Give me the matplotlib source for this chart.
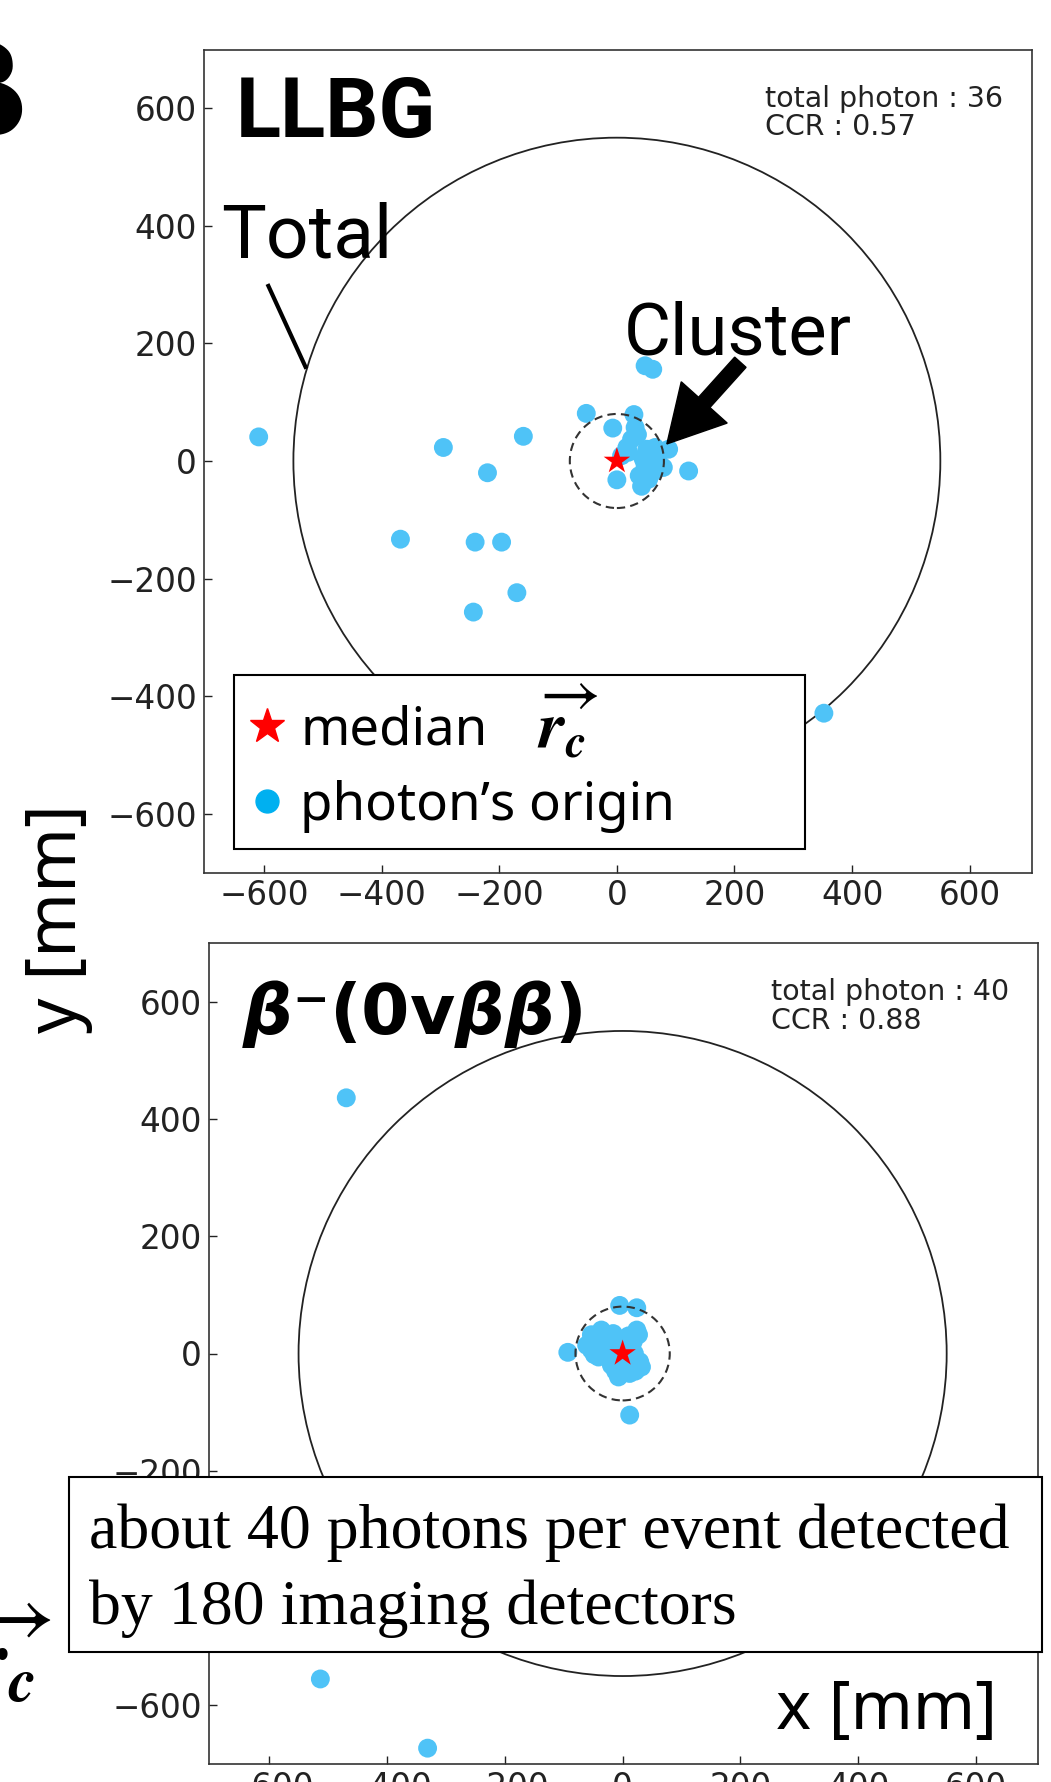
import matplotlib.pyplot as plt
from matplotlib.patches import Circle, Rectangle
from matplotlib.lines import Line2D
import numpy as np

plt.rcParams['mathtext.fontset'] = 'stix'

# photon origins, LLBG event
llbg_x = [-609, -295, -220, -159, -368, -241, -196, -170, -244, 352, 122, -52, 48, 61,
          -7, 29, 31, 25, 17, 8, 0, 51, 65, 88, 45, 48, 79, 54, 42, 62, 35, 20, 55, 70, 60, 38]
llbg_y = [41, 23, -20, 42, -133, -138, -138, -224, -257, -429, -17, 81, 162, 156,
          56, 79, 57, 37, 23, 9, -32, 20, 23, 20, 3, -9, -11, -31, -43, 9, 45, 15, -2, 5, -20, -25]
llbg_median = (0, 0)

# photon origins, beta- (0vbb) event
bb_x = [-469, -513, -331, 12, -93, -5, 24, -53, -36, -16, -53, -41, -61, 24, 27, 18,
        -19, -30, -19, -5, 12, 29, 32, 7, -10, -44, 1, -7, -45, -25, -5, 10, -28, -48,
        15, 20, -2, -12, 22, 0]
bb_y = [436, -555, -673, -105, 2, 82, 78, 32, 40, 34, 6, -6, 14, 40, 32, 20,
        3, 20, -20, -37, -34, -14, -23, -26, -6, 20, 11, -40, 28, 30, 25, 30, 8, -2,
        -10, 0, -15, -30, -30, 5]
bb_median = (0, 0)

titles = ['LLBG', r'$\mathbfit{\beta}$' + '\u207b(0v' + r'$\mathbfit{\beta\beta}$' + ')']
infos = ['total photon : 36\nCCR : 0.57', 'total photon : 40\nCCR : 0.88']
ticks = [-600, -400, -200, 0, 200, 400, 600]
R_TOTAL = 550
R_CLUSTER = 80
DOT = '#4fc3f7'
RC = r'$\overrightarrow{\mathbfit{r}_{\mathbfit{c}}}$'

W, H = 1051, 1782
fig = plt.figure(figsize=(W / 100, H / 100), dpi=100)
ax1 = fig.add_axes([204 / W, 1 - 872.5 / H, 827.5 / W, 823 / H])
ax2 = fig.add_axes([209 / W, 1 - 1764 / H, 829 / W, 821 / H])


def panel(ax, xs, ys, med, info):
    ax.add_patch(Circle((0, 0), R_TOTAL, fill=False, ec='#222222', lw=1.3, zorder=1))
    ax.scatter(xs, ys, s=185, color=DOT, edgecolors='none', zorder=2)
    ax.add_patch(Circle(med, R_CLUSTER, fill=False, ec='#333333', lw=1.5,
                        ls=(0, (4, 2.5)), zorder=3))
    ax.scatter([med[0]], [med[1]], marker='*', s=400, color='red', edgecolors='none', zorder=3)
    ax.set_xlim(-702, 705)
    ax.set_ylim(-700, 700)
    ax.set_xticks(ticks)
    ax.set_yticks(ticks)
    ax.tick_params(direction='in', length=6, width=1, labelsize=23.5, pad=5, colors='#222222')
    for s in ax.spines.values():
        s.set_linewidth(1.2)
        s.set_color('#333333')
    ax.text(252, 640, info, fontsize=20.5, ha='left', va='top', linespacing=1.02, color='#222222')


panel(ax1, llbg_x, llbg_y, llbg_median, infos[0])
panel(ax2, bb_x, bb_y, bb_median, infos[1])

# top panel labels
ax1.text(-648, 552, titles[0], family='Roboto', fontweight='bold', fontsize=60, va='baseline')
ax1.text(-673, 347, 'Total', family='Roboto', fontsize=54, va='baseline')
ax1.plot([-594, -528], [301, 157], color='black', lw=3, solid_capstyle='butt')
ax1.text(11, 182, 'Cluster', family='Roboto', fontsize=52, va='baseline')
ax1.arrow(210, 168, 85 - 210, 29 - 168, width=26, head_width=105, head_length=95,
          length_includes_head=True, color='black', zorder=6)

# legend
ax1.add_patch(Rectangle((-651, -660), 971, 296, facecolor='white', edgecolor='black',
                        lw=1.5, zorder=4))
handles = [Line2D([], [], marker='*', color='red', ls='none', markersize=26),
           Line2D([], [], marker='o', color='#00b0f0', ls='none', markersize=16.5)]
labels = ['median', 'photon\u2019s origin']
leg = ax1.legend(handles, labels, loc='upper left', bbox_to_anchor=(-648, -396),
                 bbox_transform=ax1.transData, frameon=False, borderpad=0.2,
                 borderaxespad=0, handlelength=0.8, handletextpad=0.22, labelspacing=0.42,
                 prop={'family': 'Noto Sans', 'size': 38})
leg.set_zorder(5)
ax1.text(-135, -490, RC, fontsize=48, va='baseline', zorder=6)

# bottom panel title
ax2.text(-646, 544, titles[1], family='DejaVu Sans', fontweight='bold', fontsize=50,
         va='baseline', math_fontfamily='dejavusans')

# axis labels
fig.text(997 / W, 1 - 1729 / H, 'x [mm]', family='Noto Sans', fontsize=48,
         ha='right', va='baseline')
fig.text(58 / W, 1 - 919 / H, 'y [mm]', family='Noto Sans', fontsize=50,
         rotation=90, ha='center', va='center')

# note box over the lower panel
fig.add_artist(Rectangle((69 / W, 1 - 1652 / H), (1042 - 69) / W, (1652 - 1477) / H,
                         transform=fig.transFigure, facecolor='white', edgecolor='black',
                         lw=1.5, zorder=5))
note = ['about 40 photons per event detected', 'by 180 imaging detectors']
for line, base in zip(note, [1548, 1624]):
    fig.text(89 / W, 1 - base / H, line, family='Liberation Serif', fontsize=46,
             va='baseline', zorder=6)

# cut-off pieces at the left edge
fig.text(-58 / W, 1 - 133 / H, '\u03b2', fontsize=86, fontweight='bold', va='baseline')
fig.text(52 / W, 1 - 1690 / H, RC, fontsize=64, ha='right', va='baseline')

fig.savefig('out.png', dpi=100)
